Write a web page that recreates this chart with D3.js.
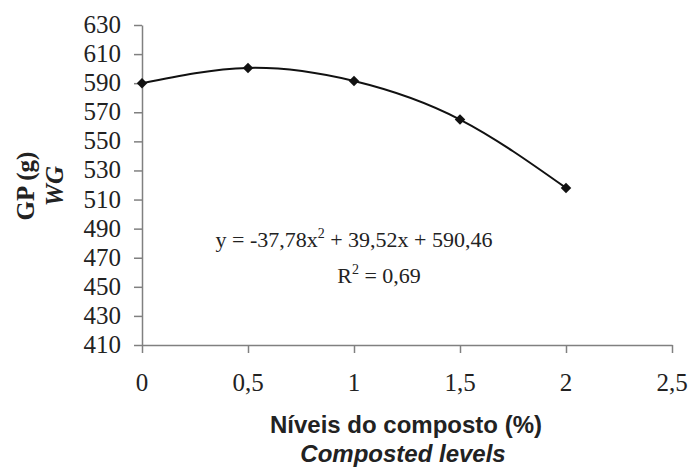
<!DOCTYPE html>
<html>
<head>
<meta charset="utf-8">
<script src="https://cdn.jsdelivr.net/npm/d3@7"></script>
<style>
  body { margin: 0; background: #fff; }
  svg { display: block; }
</style>
</head>
<body>
<div id="chart"></div>
<script>
const levels = [0, 0.5, 1, 1.5, 2];
const weightGain = [590, 600.5, 591.5, 565, 518];
const xTicks = [0, 0.5, 1, 1.5, 2, 2.5];
const yTicks = [410, 430, 450, 470, 490, 510, 530, 550, 570, 590, 610, 630];

const width = 689, height = 473;
const serif = "'Liberation Serif', 'Times New Roman', serif";
const sans = "'Liberation Sans', Arial, sans-serif";

const svg = d3.select("#chart").append("svg")
  .attr("width", width)
  .attr("height", height);

const x = d3.scaleLinear().domain([0, 2.5]).range([142, 672]);
const y = d3.scaleLinear().domain([410, 630]).range([345, 25]);

const fmt = d => String(d).replace(".", ",");

// axes (lines and ticks only, labels drawn below)
const yAxis = svg.append("g")
  .attr("transform", `translate(${x(0)},0)`)
  .call(d3.axisLeft(y).tickValues(yTicks).tickSize(8).tickSizeOuter(0).tickFormat(""));

const xAxis = svg.append("g")
  .attr("transform", `translate(0,${y(410)})`)
  .call(d3.axisBottom(x).tickValues(xTicks).tickSize(8).tickSizeOuter(0).tickFormat(""));

[yAxis, xAxis].forEach(g => {
  g.select(".domain").attr("stroke", "#808080").attr("stroke-width", 1.5);
  g.selectAll(".tick line").attr("stroke", "#808080").attr("stroke-width", 1.5);
});

svg.selectAll(".ylab")
  .data(yTicks)
  .enter().append("text")
  .attr("class", "ylab")
  .attr("x", x(0) - 21)
  .attr("y", d => y(d) + 8)
  .attr("text-anchor", "end")
  .attr("font-family", serif)
  .attr("font-size", 25)
  .attr("fill", "#222")
  .text(fmt);

svg.selectAll(".xlab")
  .data(xTicks)
  .enter().append("text")
  .attr("class", "xlab")
  .attr("x", d => x(d))
  .attr("y", 391)
  .attr("text-anchor", "middle")
  .attr("font-family", serif)
  .attr("font-size", 25)
  .attr("fill", "#222")
  .text(fmt);

// fitted curve through the points
const line = d3.line()
  .x((d, i) => x(levels[i]))
  .y(d => y(d))
  .curve(d3.curveNatural);

svg.append("path")
  .datum(weightGain)
  .attr("d", line)
  .attr("fill", "none")
  .attr("stroke", "#111")
  .attr("stroke-width", 2);

svg.selectAll(".pt")
  .data(weightGain)
  .enter().append("path")
  .attr("class", "pt")
  .attr("transform", (d, i) => `translate(${x(levels[i])},${y(d)})`)
  .attr("d", d3.symbol().type(d3.symbolDiamond2).size(70))
  .attr("fill", "#111");

// equation
const eq = svg.append("text")
  .attr("x", 354)
  .attr("y", 247)
  .attr("text-anchor", "middle")
  .attr("font-family", serif)
  .attr("font-size", 22)
  .attr("fill", "#222");
eq.append("tspan").text("y = -37,78x");
eq.append("tspan").attr("dy", -9).attr("font-size", 14).text("2");
eq.append("tspan").attr("dy", 9).text(" + 39,52x + 590,46");

const r2 = svg.append("text")
  .attr("x", 379)
  .attr("y", 283)
  .attr("text-anchor", "middle")
  .attr("font-family", serif)
  .attr("font-size", 22)
  .attr("fill", "#222");
r2.append("tspan").text("R");
r2.append("tspan").attr("dy", -9).attr("font-size", 14).text("2");
r2.append("tspan").attr("dy", 9).text(" = 0,69");

// axis titles
svg.append("text")
  .attr("x", 406)
  .attr("y", 433)
  .attr("text-anchor", "middle")
  .attr("font-family", sans)
  .attr("font-weight", "bold")
  .attr("font-size", 24)
  .attr("fill", "#222")
  .text("Níveis do composto (%)");

svg.append("text")
  .attr("x", 403)
  .attr("y", 462)
  .attr("text-anchor", "middle")
  .attr("font-family", sans)
  .attr("font-weight", "bold")
  .attr("font-style", "italic")
  .attr("font-size", 24)
  .attr("fill", "#222")
  .text("Composted levels");

svg.append("text")
  .attr("transform", "translate(34,186) rotate(-90)")
  .attr("text-anchor", "middle")
  .attr("font-family", serif)
  .attr("font-weight", "bold")
  .attr("font-size", 25)
  .attr("fill", "#222")
  .text("GP (g)");

svg.append("text")
  .attr("transform", "translate(63,186) rotate(-90)")
  .attr("text-anchor", "middle")
  .attr("font-family", serif)
  .attr("font-weight", "bold")
  .attr("font-style", "italic")
  .attr("font-size", 25)
  .attr("fill", "#222")
  .text("WG");
</script>
</body>
</html>
